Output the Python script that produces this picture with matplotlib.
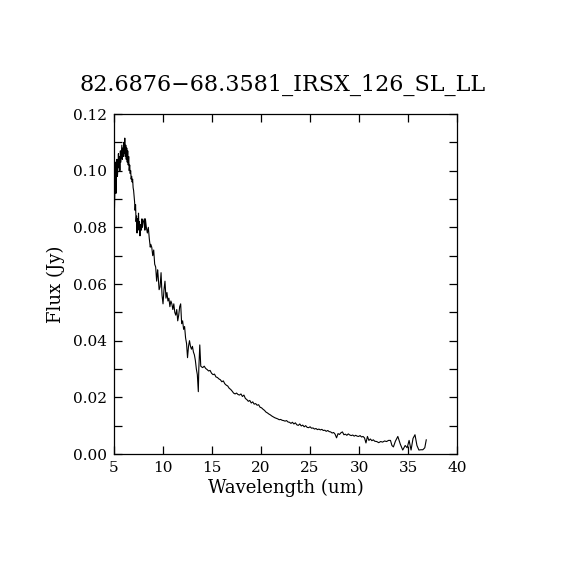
import matplotlib
matplotlib.use("Agg")
import matplotlib.pyplot as plt
from matplotlib.ticker import MultipleLocator

title = "82.6876\u221268.3581_IRSX_126_SL_LL"
xlabel = "Wavelength (um)"
ylabel = "Flux (Jy)"

wavelength = [
    5.05, 5.1, 5.15, 5.2, 5.25, 5.3, 5.35, 5.4, 5.45, 5.5, 5.55, 5.6, 5.65, 5.7, 5.75,
    5.8, 5.85, 5.9, 5.95, 6.0, 6.05, 6.1, 6.15, 6.2, 6.25, 6.3, 6.35, 6.4, 6.45, 6.5,
    6.55, 6.6, 6.65, 6.7, 6.75, 6.8, 6.85, 6.9, 6.95, 7.0, 7.05, 7.1, 7.15, 7.2, 7.25,
    7.3, 7.35, 7.4, 7.45, 7.5, 7.55, 7.6, 7.65, 7.7, 7.8, 7.85, 7.9, 8.0, 8.1, 8.15,
    8.2, 8.3, 8.4, 8.5, 8.6, 8.7, 8.75, 8.85, 8.95, 9.05, 9.15, 9.25, 9.35, 9.45, 9.5,
    9.6, 9.7, 9.8, 9.9, 10.0, 10.1, 10.2, 10.3, 10.4, 10.5, 10.6, 10.7, 10.8, 10.9, 11.0,
    11.1, 11.2, 11.3, 11.4, 11.5, 11.6, 11.7, 11.8, 11.9, 12.0, 12.1, 12.2, 12.3, 12.4, 12.5,
    12.6, 12.7, 12.8, 12.9, 13.0, 13.1, 13.2, 13.3, 13.4, 13.5, 13.6, 13.65, 13.75, 13.85, 13.95,
    14.05, 14.2, 14.35, 14.5, 14.65, 14.8, 14.95, 15.1, 15.25, 15.4, 15.55, 15.7, 15.85, 16.0, 16.15,
    16.3, 16.45, 16.6, 16.75, 16.9, 17.05, 17.2, 17.35, 17.5, 17.65, 17.8, 17.95, 18.1, 18.25, 18.4,
    18.55, 18.7, 18.85, 19.0, 19.15, 19.3, 19.45, 19.6, 19.75, 19.9, 20.05, 20.2, 20.35, 20.5, 20.65,
    20.8, 20.95, 21.1, 21.25, 21.4, 21.55, 21.7, 21.85, 22.0, 22.15, 22.3, 22.45, 22.6, 22.75, 22.9,
    23.05, 23.2, 23.35, 23.5, 23.65, 23.8, 23.95, 24.1, 24.25, 24.4, 24.55, 24.7, 24.85, 25.0, 25.15,
    25.3, 25.45, 25.6, 25.75, 25.9, 26.05, 26.2, 26.35, 26.5, 26.65, 26.8, 26.95, 27.1, 27.25, 27.4,
    27.55, 27.7, 27.85, 28.0, 28.15, 28.3, 28.45, 28.6, 28.75, 28.9, 29.05, 29.2, 29.35, 29.5, 29.65,
    29.8, 29.95, 30.1, 30.25, 30.4, 30.55, 30.7, 30.85, 31.0, 31.15, 31.3, 31.45, 31.6, 31.8, 32.0,
    32.2, 32.4, 32.6, 32.8, 33.0, 33.2, 33.35, 33.5, 33.7, 33.95, 34.2, 34.45, 34.7, 34.9, 35.1,
    35.3, 35.5, 35.7, 35.9, 36.1, 36.3, 36.5, 36.7, 36.85,
]

flux = [
    0.087, 0.095, 0.103, 0.092, 0.100, 0.104, 0.098, 0.101, 0.106, 0.101, 0.105, 0.100, 0.107, 0.103, 0.106,
    0.109, 0.104, 0.108, 0.105, 0.110, 0.106, 0.1115, 0.105, 0.109, 0.104, 0.108, 0.103, 0.107, 0.102, 0.105,
    0.100, 0.102, 0.099, 0.100, 0.097, 0.098, 0.096, 0.097, 0.094, 0.093, 0.091, 0.089, 0.086, 0.088, 0.082,
    0.084, 0.078, 0.083, 0.080, 0.085, 0.079, 0.082, 0.077, 0.081, 0.079, 0.083, 0.080, 0.082, 0.083, 0.079,
    0.083, 0.080, 0.078, 0.080, 0.076, 0.073, 0.074, 0.073, 0.070, 0.072, 0.067, 0.066, 0.061, 0.065, 0.063,
    0.058, 0.059, 0.064, 0.056, 0.053, 0.058, 0.061, 0.055, 0.057, 0.054, 0.055, 0.052, 0.054, 0.053, 0.051,
    0.053, 0.050, 0.049, 0.051, 0.047, 0.049, 0.052, 0.053, 0.046, 0.047, 0.044, 0.045, 0.041, 0.039, 0.034,
    0.038, 0.040, 0.038, 0.037, 0.038, 0.036, 0.035, 0.033, 0.030, 0.028, 0.022, 0.030, 0.0385, 0.031, 0.0307,
    0.0305, 0.0310, 0.0302, 0.0298, 0.0293, 0.0295, 0.0285, 0.0280, 0.0282, 0.0272, 0.0270, 0.0265, 0.0262, 0.0255, 0.0258,
    0.0248, 0.0243, 0.0240, 0.0232, 0.0228, 0.0222, 0.0215, 0.0212, 0.0215, 0.0210, 0.0208, 0.0212, 0.0203, 0.0208, 0.0196,
    0.0192, 0.0186, 0.0189, 0.0180, 0.0184, 0.0176, 0.0178, 0.0172, 0.0174, 0.0165, 0.0163, 0.0158, 0.0154, 0.0148, 0.0145,
    0.0141, 0.0138, 0.0134, 0.0131, 0.0128, 0.0126, 0.0124, 0.0121, 0.0122, 0.0119, 0.0118, 0.0116, 0.0118, 0.0113, 0.0112,
    0.0108, 0.0112, 0.0106, 0.0110, 0.0103, 0.0101, 0.0106, 0.0099, 0.0102, 0.0096, 0.0100, 0.0094, 0.0093, 0.0096, 0.0091,
    0.0092, 0.0088, 0.0090, 0.0086, 0.0088, 0.0085, 0.0087, 0.0083, 0.0084, 0.0080, 0.0083, 0.0079, 0.0078, 0.0074, 0.0076,
    0.0070, 0.0057, 0.0072, 0.0069, 0.0075, 0.0078, 0.0068, 0.0070, 0.0066, 0.0071, 0.0067, 0.0065, 0.0067, 0.0063, 0.0066,
    0.0063, 0.0062, 0.0065, 0.0060, 0.0062, 0.0057, 0.0039, 0.0062, 0.0048, 0.0053, 0.0047, 0.0050, 0.0045, 0.0044, 0.0040,
    0.0044, 0.0042, 0.0046, 0.0044, 0.0048, 0.0048, 0.0030, 0.0025, 0.0045, 0.0062, 0.0035, 0.0014, 0.0030, 0.0022, 0.0048,
    0.0014, 0.0055, 0.0068, 0.0030, 0.0014, 0.0015, 0.0015, 0.0022, 0.0050,
]

xticks = [5, 10, 15, 20, 25, 30, 35, 40]
yticks = [0.00, 0.02, 0.04, 0.06, 0.08, 0.10, 0.12]

plt.rcParams['font.family'] = ['DejaVu Serif']
fig = plt.figure(figsize=(5.7, 5.7), dpi=100)
ax = fig.add_axes([0.2, 0.2035, 0.602, 0.5965])
ax.plot(wavelength, flux, color='black', linewidth=0.8)
ax.set_xlim(5, 40)
ax.set_ylim(0, 0.12)
ax.set_xticks(xticks)
ax.set_xticklabels([str(t) for t in xticks])
ax.set_yticks(yticks)
ax.set_yticklabels(["%.2f" % t for t in yticks])
ax.yaxis.set_minor_locator(MultipleLocator(0.01))
ax.tick_params(which='both', direction='in', top=True, right=True, length=6, width=0.9,
               labelsize=11, pad=5)
for s in ax.spines.values():
    s.set_linewidth(0.9)
ax.set_xlabel(xlabel, fontsize=13, labelpad=3)
ax.set_ylabel(ylabel, fontsize=13, labelpad=6)
fig.text(0.495, 0.851, title, ha='center', va='center', fontsize=16)
fig.savefig("out.png", dpi=100, facecolor='white')
